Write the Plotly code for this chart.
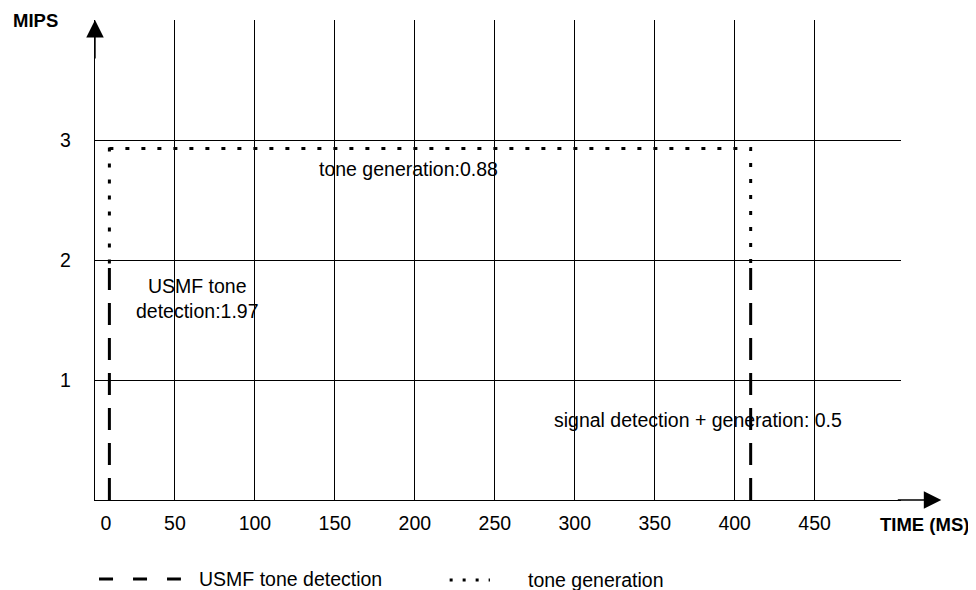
import plotly.graph_objects as go

# time axis (ms) and MIPS axis ticks
time_ticks = [0, 50, 100, 150, 200, 250, 300, 350, 400, 450]
time_labels = ["\u00a0\u00a0\u00a0\u00a00", "50", "100", "150", "200", "250",
               "300", "350", "400", "450"]
mips_ticks = [1, 2, 3]
mips_labels = ["1", "2", "3"]

# USMF tone detection (dashed): two bursts at start and around 410 ms
usmf_x = [9, 9, None, 410, 410]
usmf_y = [0, 1.97, None, 0, 1.97]

# tone generation (dotted)
tone_x = [9, 9, None, 9, 410, 410]
tone_y = [1.97, 3.0, None, 2.93, 2.93, 1.97]

FONT = "Liberation Sans, Arial, sans-serif"

fig = go.Figure()
fig.add_trace(go.Scatter(x=usmf_x, y=usmf_y, mode="lines", name="USMF tone detection",
                         line=dict(color="black", width=3, dash="22px,13px"),
                         showlegend=False))
fig.add_trace(go.Scatter(x=tone_x, y=tone_y, mode="lines", name="tone generation",
                         line=dict(color="black", width=3, dash="4px,12px"),
                         showlegend=False))

# page body has an 8px margin, so the figure is a bit smaller and shifted
fig.update_layout(
    width=968, height=582,
    margin=dict(l=87, r=75, t=12, b=90),
    paper_bgcolor="white", plot_bgcolor="white",
    font=dict(family=FONT, size=19.5, color="black"),
    xaxis=dict(range=[0, 504], tickvals=time_ticks, ticktext=time_labels,
               showgrid=True, gridcolor="black", gridwidth=1.4,
               showline=True, linecolor="black", linewidth=1.4,
               zeroline=False, ticks="", ticklabelstandoff=5),
    yaxis=dict(range=[0, 4.0], tickvals=mips_ticks, ticktext=mips_labels,
               showgrid=True, gridcolor="black", gridwidth=1.4,
               showline=True, linecolor="black", linewidth=1.4,
               zeroline=False, ticks="", ticklabelstandoff=19),
)

# axis arrows
fig.add_annotation(xref="paper", yref="paper", x=1.05, y=0, ax=-45, ay=0, text="",
                   showarrow=True, arrowhead=2, arrowsize=2.5, arrowwidth=1.4,
                   arrowcolor="black")
fig.add_annotation(xref="paper", yref="paper", x=0, y=1.0, ax=0, ay=40, text="",
                   showarrow=True, arrowhead=2, arrowsize=2.5, arrowwidth=1.4,
                   arrowcolor="black")

# axis titles
fig.add_annotation(xref="paper", yref="paper", x=-0.0744, y=1.0, text="<b>MIPS</b>",
                   xanchor="center", yanchor="middle", showarrow=False, font=dict(size=18.5))
fig.add_annotation(xref="paper", yref="paper", x=1.0287, y=-0.052, text="<b>TIME (MS)</b>",
                   xanchor="center", yanchor="middle", showarrow=False, font=dict(size=18.5))

# value labels
fig.add_annotation(x=196, y=2.76, text="tone generation:0.88", showarrow=False)
fig.add_annotation(x=64, y=1.68, text="USMF tone<br>detection:1.97", showarrow=False)
fig.add_annotation(x=377, y=0.667, text="signal detection + generation: 0.5", showarrow=False)

# hand-drawn legend at the bottom
fig.add_shape(type="line", xref="paper", yref="paper", x0=0.005, x1=0.1066,
              y0=-0.1646, y1=-0.1646, line=dict(color="black", width=3, dash="14px,20px"))
fig.add_annotation(xref="paper", yref="paper", x=0.1265, y=-0.1646, xanchor="left",
                   yanchor="middle", text="USMF tone detection", showarrow=False)
fig.add_shape(type="line", xref="paper", yref="paper", x0=0.44, x1=0.49,
              y0=-0.1667, y1=-0.1667, line=dict(color="black", width=3, dash="3px,10px"))
fig.add_annotation(xref="paper", yref="paper", x=0.5345, y=-0.1667, xanchor="left",
                   yanchor="middle", text="tone generation", showarrow=False)

fig.write_html("out.html")
